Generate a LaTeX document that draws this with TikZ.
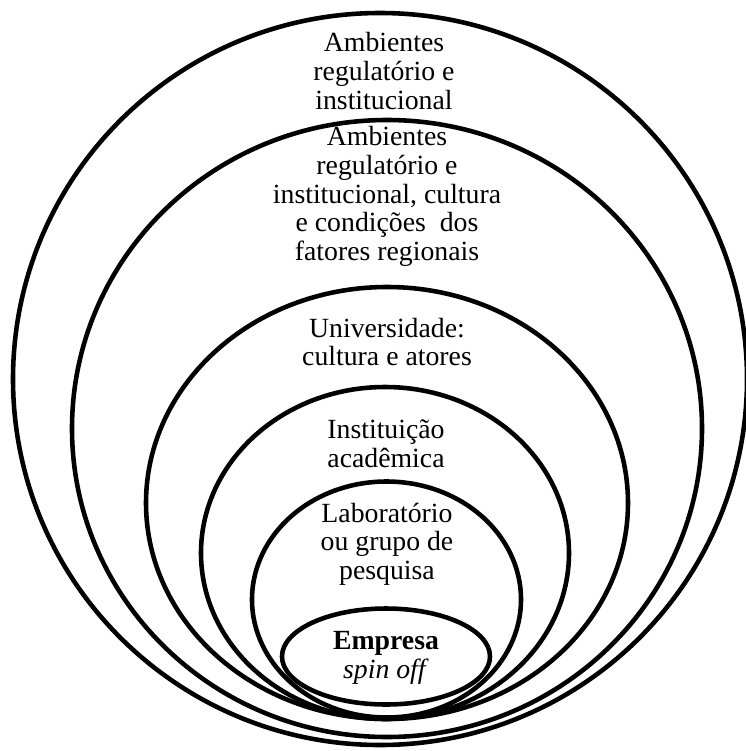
\documentclass[tikz,border=0pt]{standalone}
\usepackage{fontspec}
\setmainfont{Liberation Serif}
\usetikzlibrary{positioning}

\begin{document}
\begin{tikzpicture}[x=0.02cm, y=-0.02cm, line width=2.6pt,
    lbl/.style={align=center, inner sep=0pt, font=\fontsize{15.8}{16.3}\selectfont}]
            \useasboundingbox (0,0) rectangle (746,751);
            % ambientes nacionais
            \draw[fill=white] (380,379) ellipse [x radius=367, y radius=366];
            \node[lbl] (nac) at (384,71) {Ambientes\\regulatório e\\institucional};
            % ambientes regionais
            \draw[fill=white] (387,428.5) ellipse [x radius=315, y radius=308.5];
            \node[lbl] (reg) at (387,196.5) {Ambientes\\regulatório e\\institucional, cultura\\e condições~ dos\\fatores regionais};
            % universidade
            \draw (387,503) ellipse [x radius=241, y radius=216];
            \node[lbl] (univ) at (387,342) {Universidade:\\cultura e atores};
            % instituicao
            \draw (385,553) ellipse [x radius=184, y radius=166];
            \node[lbl] (inst) at (386,444) {Instituição\\acadêmica};
            % laboratorio
            \draw (386.5,599.5) ellipse [x radius=134.5, y radius=118];
            \node[lbl] (lab) at (387,544) {Laboratório\\ou grupo de\\pesquisa};
            % spin off
            \draw (386,656.5) ellipse [x radius=104, y radius=48];
            \node[lbl] (spin) at (386,658) {\textbf{Empresa}\\\textit{spin off}};
\end{tikzpicture}
\end{document}
